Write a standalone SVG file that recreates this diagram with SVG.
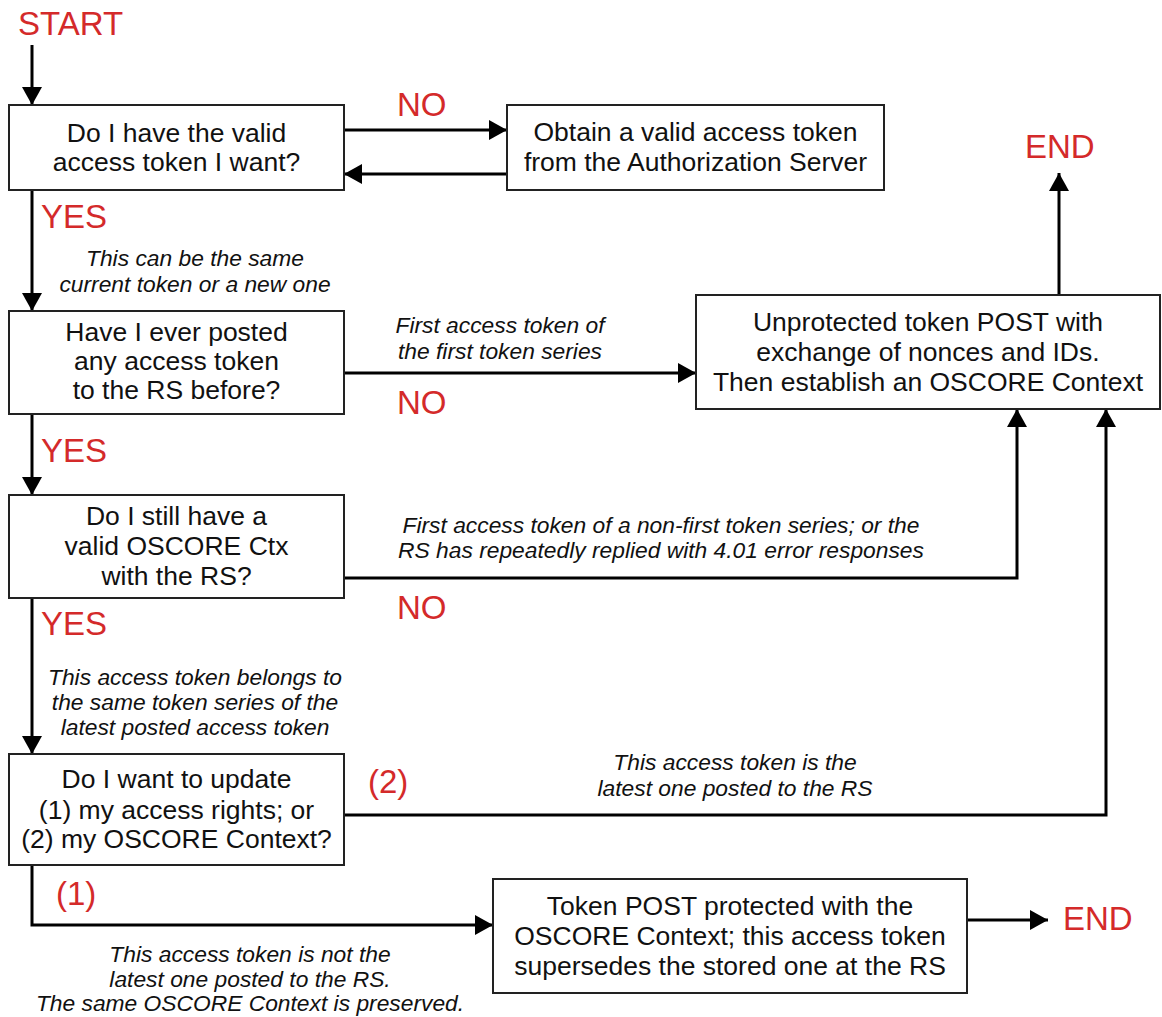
<svg xmlns="http://www.w3.org/2000/svg" width="1162" height="1017" viewBox="0 0 1162 1017">
  <defs>
    <marker id="arrow" markerUnits="userSpaceOnUse" markerWidth="18" markerHeight="20" refX="18" refY="10" orient="auto">
      <path d="M0,0 L18,10 L0,20 z" fill="#000"/>
    </marker>
    <style>
      .box { fill: #fff; stroke: #222; stroke-width: 2; }
      .txt { font-family: "Liberation Sans", Arial, sans-serif; font-size: 26.5px; fill: #111; text-anchor: middle; }
      .note { font-family: "Liberation Sans", Arial, sans-serif; font-size: 22.8px; font-style: italic; fill: #111; text-anchor: middle; }
      .lbl { font-family: "Liberation Sans", Arial, sans-serif; font-size: 33px; fill: #d42a2a; }
      .conn { fill: none; stroke: #000; stroke-width: 3; marker-end: url(#arrow); }
    </style>
  </defs>
  <rect width="1162" height="1017" fill="#fff"/>

  <!-- connectors -->
  <g id="connectors">
    <path class="conn" d="M32,45 V105"/>
    <path class="conn" d="M344,130 H507"/>
    <path class="conn" d="M507,174 H344"/>
    <path class="conn" d="M32,190 V311"/>
    <path class="conn" d="M344,373 H696"/>
    <path class="conn" d="M32,414 V495"/>
    <path class="conn" d="M344,578 H1017 V409"/>
    <path class="conn" d="M32,598 V754"/>
    <path class="conn" d="M344,815 H1106 V409"/>
    <path class="conn" d="M32,865 V925 H493"/>
    <path class="conn" d="M1059,295 V173"/>
    <path class="conn" d="M967,920 H1048"/>
  </g>

  <!-- edge labels and notes -->
  <g id="labels">
    <text class="lbl" x="18" y="35">START</text>
    <text class="lbl" x="397" y="116">NO</text>
    <text class="lbl" x="41" y="228">YES</text>
    <text class="lbl" x="397" y="414">NO</text>
    <text class="lbl" x="41" y="462">YES</text>
    <text class="lbl" x="397" y="619">NO</text>
    <text class="lbl" x="41" y="635">YES</text>
    <text class="lbl" x="368" y="793">(2)</text>
    <text class="lbl" x="56" y="905">(1)</text>
    <text class="lbl" x="1025" y="158">END</text>
    <text class="lbl" x="1063" y="930">END</text>

    <text class="note" x="195" y="266">This can be the same</text>
    <text class="note" x="195" y="292">current token or a new one</text>
    <text class="note" x="500" y="333">First access token of</text>
    <text class="note" x="500" y="359">the first token series</text>
    <text class="note" x="661" y="533">First access token of a non-first token series; or the</text>
    <text class="note" x="661" y="558">RS has repeatedly replied with 4.01 error responses</text>
    <text class="note" x="195" y="685">This access token belongs to</text>
    <text class="note" x="195" y="710">the same token series of the</text>
    <text class="note" x="195" y="735">latest posted access token</text>
    <text class="note" x="735" y="770">This access token is the</text>
    <text class="note" x="735" y="796">latest one posted to the RS</text>
    <text class="note" x="250" y="962">This access token is not the</text>
    <text class="note" x="250" y="987">latest one posted to the RS.</text>
    <text class="note" x="250" y="1011">The same OSCORE Context is preserved.</text>
  </g>

  <!-- nodes -->
  <g id="node-valid-token">
    <rect class="box" x="9" y="105" width="335" height="85"/>
    <text class="txt" x="176.5" y="142">Do I have the valid</text>
    <text class="txt" x="176.5" y="171">access token I want?</text>
  </g>
  <g id="node-obtain-token">
    <rect class="box" x="507" y="105" width="377" height="85"/>
    <text class="txt" x="695.5" y="141">Obtain a valid access token</text>
    <text class="txt" x="695.5" y="171">from the Authorization Server</text>
  </g>
  <g id="node-ever-posted">
    <rect class="box" x="9" y="311" width="335" height="103"/>
    <text class="txt" x="176.5" y="341">Have I ever posted</text>
    <text class="txt" x="176.5" y="370">any access token</text>
    <text class="txt" x="176.5" y="399">to the RS before?</text>
  </g>
  <g id="node-valid-ctx">
    <rect class="box" x="9" y="495" width="335" height="103"/>
    <text class="txt" x="176.5" y="525">Do I still have a</text>
    <text class="txt" x="176.5" y="555">valid OSCORE Ctx</text>
    <text class="txt" x="176.5" y="585">with the RS?</text>
  </g>
  <g id="node-update">
    <rect class="box" x="9" y="754" width="335" height="111"/>
    <text class="txt" x="176.5" y="788">Do I want to update</text>
    <text class="txt" x="176.5" y="819">(1) my access rights; or</text>
    <text class="txt" x="176.5" y="848">(2) my OSCORE Context?</text>
  </g>
  <g id="node-unprotected-post">
    <rect class="box" x="696" y="295" width="464" height="114"/>
    <text class="txt" x="928" y="331">Unprotected token POST with</text>
    <text class="txt" x="928" y="361">exchange of nonces and IDs.</text>
    <text class="txt" x="928" y="391">Then establish an OSCORE Context</text>
  </g>
  <g id="node-protected-post">
    <rect class="box" x="493" y="879" width="474" height="114"/>
    <text class="txt" x="730" y="915">Token POST protected with the</text>
    <text class="txt" x="730" y="945">OSCORE Context; this access token</text>
    <text class="txt" x="730" y="975">supersedes the stored one at the RS</text>
  </g>
</svg>
